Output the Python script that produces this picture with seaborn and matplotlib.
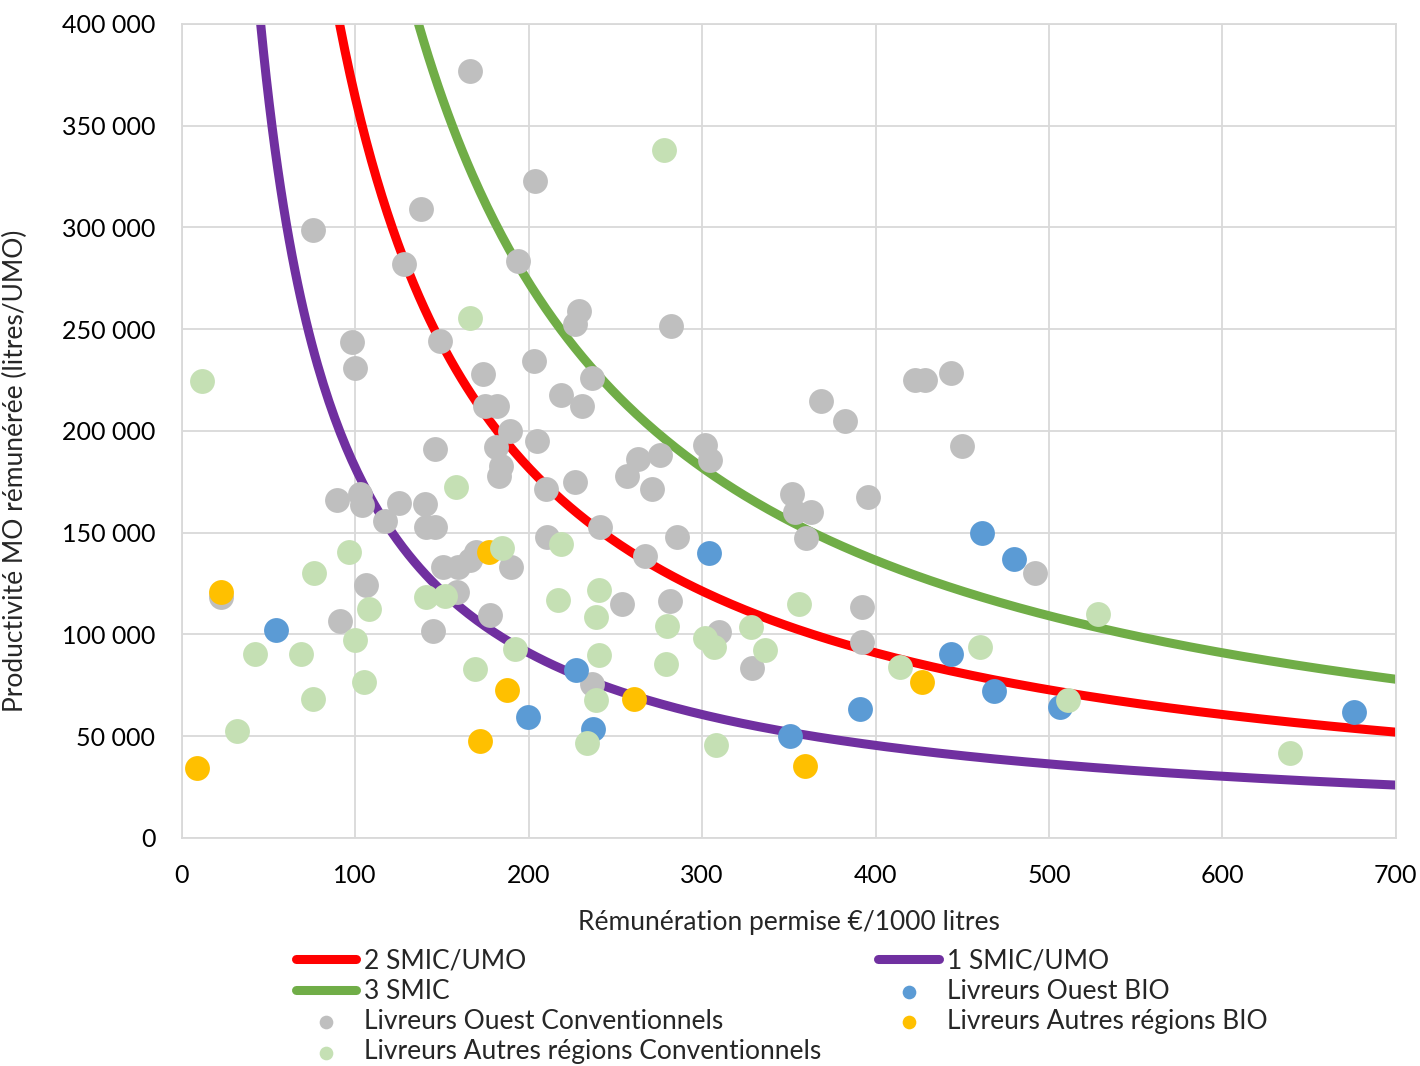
import numpy as np
import pandas as pd
import matplotlib
matplotlib.use("Agg")
import matplotlib.pyplot as plt
import seaborn as sns
from matplotlib.ticker import FuncFormatter

# ---------------- data ----------------
# Annual cost of one SMIC per UMO (EUR) -> iso-income curves: y = level * SMIC * 1000 / x
smic_annual_eur = 18200
smic_levels = [2, 3, 1]
smic_labels = ["2 SMIC/UMO", "3 SMIC", "1 SMIC/UMO"]
smic_colors = ["#FF0000", "#70AD47", "#7030A0"]

ouest_conv_x = [166, 203.5, 138, 75.5, 128, 194, 229, 226.6, 282, 98, 148.8, 100, 203, 173.6,
                236.4, 218.5, 231, 174.7, 181.6, 189, 205, 146, 181, 184, 182.8, 262.9, 256.6,
                275.6, 271, 209.9, 227, 301.6, 304.5, 89.4, 103, 104, 125, 140, 117, 140.6, 145.8,
                241, 210.5, 285.4, 267, 150.5, 159, 166, 169.5, 190, 158.6, 106, 253.7, 281.4,
                177.6, 91, 144.7, 309.6, 236.4, 329, 351.7, 353.5, 363, 359.8, 368.5, 382.3,
                395.6, 392, 392, 423, 428.4, 443.8, 450, 491.8, 22.5]
ouest_conv_y = [377000, 323000, 309000, 299000, 282000, 283500, 259000, 252500, 251500, 243700,
                244200, 231000, 234400, 228000, 226000, 217700, 212300, 212300, 212300, 200000,
                195000, 191000, 192000, 183000, 178000, 186200, 178000, 188200, 171500, 171500,
                175000, 193000, 185700, 166000, 169000, 163600, 164600, 164100, 155800, 152800,
                152800, 152800, 148000, 148000, 138600, 133000, 133000, 136600, 140500, 133000,
                121000, 124300, 115000, 116500, 109600, 106600, 101700, 101200, 75700, 83500,
                169000, 160000, 160000, 147400, 214700, 204900, 167600, 113500, 96300, 225000,
                225000, 228500, 192600, 130200, 118400]

ouest_bio_x = [54.2, 199.5, 227.2, 237, 303.9, 350.6, 391, 443.4, 461.3, 468.2, 479.7, 506.3, 675.8]
ouest_bio_y = [102200, 59500, 82600, 53600, 140000, 50100, 63400, 90400, 149900, 72200, 137100,
               64400, 61900]

autres_bio_x = [8.6, 22.5, 177, 187.4, 171.8, 260.6, 359.2, 426.7]
autres_bio_y = [34400, 120900, 140500, 72700, 47700, 68300, 35400, 76700]

autres_conv_x = [11.5, 166, 278, 158, 184.5, 218.5, 96.3, 76, 108, 140.6, 151.6, 100, 42, 69, 75.5,
                 105, 31.7, 169, 192, 216.8, 240.4, 239, 240.4, 239, 233.5, 280, 279, 301.6,
                 306.8, 307.9, 328, 336, 356, 414, 460, 511, 528, 639]
autres_conv_y = [224600, 255500, 338000, 172500, 142500, 144500, 140500, 130200, 112500, 118400,
                 118900, 97300, 90400, 90400, 68300, 76700, 52600, 83000, 92900, 117000, 121900,
                 108600, 89900, 67800, 46700, 104200, 85500, 98300, 93900, 45700, 103700, 92400,
                 115000, 84000, 93900, 67800, 110100, 41800]

x_ticks = [0, 100, 200, 300, 400, 500, 600, 700]
y_ticks = [0, 50000, 100000, 150000, 200000, 250000, 300000, 350000, 400000]

# ---------------- figure ----------------
sns.set_theme(style="white")
plt.rcParams["font.family"] = ["Lato", "DejaVu Sans"]

fig = plt.figure(figsize=(14.2, 10.66), dpi=100)
ax = fig.add_axes([0.128, 0.2139, 0.855, 0.7636])

x_max, y_max = 700, 400000
for lvl, lab, col in zip(smic_levels, smic_labels, smic_colors):
    k = lvl * smic_annual_eur * 1000
    xs = np.linspace(k / y_max, x_max, 400)
    df = pd.DataFrame({"x": xs, "y": k / xs})
    sns.lineplot(data=df, x="x", y="y", ax=ax, color=col, linewidth=6.5, label=lab,
                 zorder=2, sort=False)

point_series = [
    ("Livreurs Ouest Conventionnels", ouest_conv_x, ouest_conv_y, "#BFBFBF"),
    ("Livreurs Ouest BIO", ouest_bio_x, ouest_bio_y, "#5B9BD5"),
    ("Livreurs Autres régions BIO", autres_bio_x, autres_bio_y, "#FFC000"),
    ("Livreurs Autres régions Conventionnels", autres_conv_x, autres_conv_y, "#C5E0B4"),
]
for i, (lab, xs, ys, col) in enumerate(point_series):
    sns.scatterplot(x=xs, y=ys, ax=ax, color=col, s=320, linewidth=0, label=lab,
                    zorder=3 + i)

ax.set_xlim(0, x_max)
ax.set_ylim(0, y_max)
ax.set_xticks(x_ticks)
ax.set_yticks(y_ticks)
ax.yaxis.set_major_formatter(FuncFormatter(lambda v, p: f"{int(v):,}".replace(",", " ")))
ax.grid(True, color="#D9D9D9", linewidth=1.3)
ax.set_axisbelow(True)
for sp in ax.spines.values():
    sp.set_color("#D9D9D9")
    sp.set_linewidth(1.3)
ax.tick_params(axis="both", length=0, labelsize=18, colors="#000000")
ax.tick_params(axis="y", pad=19)
ax.tick_params(axis="x", pad=19)

ax.set_xlabel("Rémunération permise €/1000 litres", fontsize=19, labelpad=16)
ax.set_ylabel("Productivité MO rémunérée (litres/UMO)", fontsize=19)
ax.yaxis.set_label_coords(-0.127, 0.451)

h, l = ax.get_legend_handles_labels()
order = ["2 SMIC/UMO", "3 SMIC", "Livreurs Ouest Conventionnels",
         "Livreurs Autres régions Conventionnels", "1 SMIC/UMO", "Livreurs Ouest BIO",
         "Livreurs Autres régions BIO"]
hd = dict(zip(l, h))
leg = ax.legend([hd[o] for o in order], order, ncol=2, loc="upper left",
                bbox_to_anchor=(0.085, -0.123), frameon=False, fontsize=19,
                handlelength=2.3, handletextpad=0.3, columnspacing=2.16,
                labelspacing=0.2, markerscale=0.55, borderaxespad=0)
for lh in leg.get_lines():
    lh.set_solid_capstyle("round")

fig.savefig("out.png", dpi=100)
